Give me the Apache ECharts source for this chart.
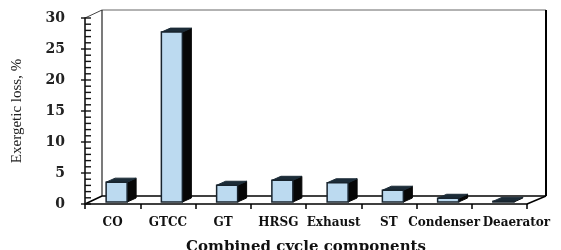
<!DOCTYPE html>
<html>
<head>
<meta charset="utf-8">
<script src="https://cdn.jsdelivr.net/npm/echarts@6/dist/echarts.min.js"></script>
<style>
  html, body { margin: 0; padding: 0; background: #fff; }
  #chart { width: 561px; height: 250px; }
</style>
</head>
<body>
<div id="chart"></div>
<script>
// components and their exergetic loss (%)
const categories = ['CO', 'GTCC', 'GT', 'HRSG', 'Exhaust', 'ST', 'Condenser', 'Deaerator']
const exergyLoss = [3.2, 27.4, 2.7, 3.5, 3.1, 1.9, 0.6, 0.1]
const yMin = 0
const yMax = 30
const yStep = 5
const yMinorStep = 1

const DEPTH = [17, -8] // back wall offset
const BAR_SHIFT = [4, -2] // bar sits a bit behind the front axis
const BAR_DEPTH = [9, -4]

function seg (a, b, c, d, color, w) {
  return {
    type: 'line',
    shape: { x1: a, y1: b, x2: c, y2: d },
    style: { stroke: color, lineWidth: w }
  }
}

function renderFrame (params, api) {
  const cs = params.coordSys
  const x0 = cs.x
  const y0 = cs.y
  const x1 = cs.x + cs.width
  const y1 = cs.y + cs.height
  const bx0 = x0 + DEPTH[0]
  const by0 = y0 + DEPTH[1]
  const bx1 = x1 + DEPTH[0] + 2
  const by1 = y1 + DEPTH[1]
  const children = [
    seg(x0, y0, bx0, by0, '#444', 1),
    seg(bx0, by0, bx1, by0, '#666', 1),
    seg(bx0, by0, bx0, by1, '#222', 1.2),
    seg(bx1, by0, bx1, by1, '#000', 2),
    seg(bx0, by1, bx1, by1, '#000', 1.5),
    seg(x0, y1, bx0, by1, '#000', 1.5),
    seg(x1, y1, bx1, by1, '#000', 1.5)
  ]
  // ruler-like ticks on the value axis
  for (let v = yMin; v <= yMax; v += yMinorStep) {
    const y = api.coord([0, v])[1]
    const major = v % yStep === 0
    children.push(seg(major ? x0 - 4 : x0, y, x0 + 6, y, '#111', 1.4))
  }
  return { type: 'group', children: children }
}

function renderBar (params, api) {
  const i = api.value(0)
  const v = api.value(1)
  const p0 = api.coord([i, 0])
  const p1 = api.coord([i, v])
  const bw = api.size([1, 0])[0] * 0.38
  const x = p0[0] + BAR_SHIFT[0] - bw / 2
  const yb = p0[1] + BAR_SHIFT[1]
  const yt = p1[1] + BAR_SHIFT[1]
  const dx = BAR_DEPTH[0]
  const dy = BAR_DEPTH[1]
  return {
    type: 'group',
    children: [
      {
        type: 'polygon',
        shape: { points: [[x + bw, yb], [x + bw + dx, yb + dy], [x + bw + dx, yt + dy], [x + bw, yt]] },
        style: { fill: '#070707', stroke: '#070707', lineWidth: 1 }
      },
      {
        type: 'polygon',
        shape: { points: [[x, yt], [x + bw, yt], [x + bw + dx, yt + dy], [x + dx, yt + dy]] },
        style: { fill: '#1c2c38', stroke: '#1c2c38', lineWidth: 1 }
      },
      {
        type: 'rect',
        shape: { x: x, y: yt, width: bw, height: yb - yt },
        style: { fill: '#bcdaf0', stroke: '#18242e', lineWidth: 1.5 }
      }
    ]
  }
}

const chart = echarts.init(document.getElementById('chart'))
chart.setOption({
  animation: false,
  grid: { left: 85, right: 34, top: 18, bottom: 46, outerBoundsMode: 'none', containLabel: false },
  xAxis: {
    type: 'category',
    data: categories,
    name: 'Combined cycle components',
    nameLocation: 'middle',
    nameGap: 36,
    nameTextStyle: { fontFamily: 'DejaVu Serif', fontWeight: 'bold', fontSize: 15, color: '#111' },
    axisLine: { lineStyle: { color: '#000', width: 1.5 } },
    axisTick: { show: true, interval: 0, length: 5, lineStyle: { color: '#000', width: 1.5 } },
    axisLabel: {
      interval: 0,
      margin: 13,
      fontFamily: 'DejaVu Serif',
      fontWeight: 'bold',
      fontSize: 12,
      color: '#111',
      formatter: function (v) {
        return v === 'Deaerator' ? '{last|' + v + '}' : v
      },
      rich: {
        last: { fontFamily: 'DejaVu Serif', fontWeight: 'bold', fontSize: 12, color: '#111', padding: [0, 0, 0, 34] }
      }
    },
    splitLine: { show: false }
  },
  yAxis: {
    type: 'value',
    min: yMin,
    max: yMax,
    interval: yStep,
    name: 'Exergetic loss, %',
    nameLocation: 'middle',
    nameGap: 60,
    nameTextStyle: { fontFamily: 'Liberation Serif', fontSize: 15, color: '#222' },
    axisLine: { show: true, lineStyle: { color: '#000', width: 1.5 } },
    axisTick: { show: false },
    axisLabel: { margin: 20, fontFamily: 'DejaVu Serif', fontWeight: 'bold', fontSize: 14, color: '#222' },
    splitLine: { show: false }
  },
  series: [
    {
      type: 'custom',
      name: 'frame',
      renderItem: renderFrame,
      data: [[0, 0]],
      clip: false,
      z: 1
    },
    {
      type: 'custom',
      name: 'Exergetic loss',
      renderItem: renderBar,
      encode: { x: 0, y: 1 },
      data: exergyLoss.map((v, i) => [i, v]),
      clip: false,
      z: 3
    }
  ]
})
</script>
</body>
</html>
